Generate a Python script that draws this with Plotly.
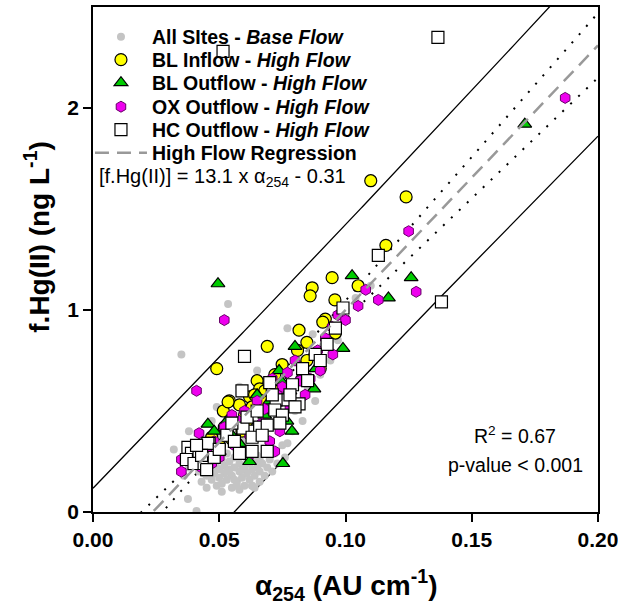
import numpy as np
import plotly.graph_objects as go

# ---------------- data ----------------
base_x = [0.042,0.043,0.044,0.045,0.045,0.046,0.047,0.047,0.048,0.048,0.049,0.049,0.050,0.050,0.051,0.051,
          0.052,0.052,0.053,0.053,0.054,0.054,0.055,0.055,0.056,0.056,0.057,0.057,0.058,0.058,0.059,0.059,
          0.060,0.060,0.061,0.061,0.062,0.062,0.063,0.063,0.064,0.064,0.065,0.065,0.066,0.066,0.067,0.068,
          0.068,0.069,0.070,0.071,0.072,0.073,0.075,0.076,0.046,0.049,0.053,0.056,0.059,0.062,0.066,0.044,
          0.051,0.058,0.064,0.057,
          0.035,0.0535,0.0376,0.041,0.032,0.038,0.049,0.065,0.077,0.063,0.077,0.091,0.094,0.085,0.080,0.072,
          0.068,0.060,0.055,0.050,0.045,0.040,0.038,0.088,0.083,0.079,0.100,0.104,0.096,0.087,0.082,0.074,
          0.070,0.058,0.062,0.036,0.040,0.043,0.047,0.053,0.110,0.097,0.090]
base_y = [0.20,0.15,0.25,0.18,0.12,0.22,0.28,0.16,0.19,0.24,0.13,0.30,0.21,0.17,0.26,0.14,
          0.23,0.19,0.29,0.16,0.21,0.25,0.12,0.18,0.27,0.22,0.15,0.31,0.20,0.24,0.17,0.28,
          0.13,0.22,0.19,0.26,0.16,0.30,0.21,0.13,0.25,0.18,0.22,0.28,0.15,0.20,0.24,0.18,
          0.30,0.22,0.26,0.20,0.29,0.24,0.33,0.27,0.26,0.22,0.20,0.16,0.21,0.24,0.26,0.19,
          0.10,0.11,0.12,0.13,
          0.78,1.03,0.064,0.005,0.31,0.40,0.52,0.70,0.34,0.13,0.91,0.82,0.75,0.62,0.50,0.45,
          0.38,0.35,0.42,0.38,0.33,0.28,0.22,0.55,0.45,0.40,1.00,1.06,0.92,0.88,0.72,0.58,
          0.52,0.62,0.55,0.18,0.33,0.35,0.45,0.50,1.12,0.85,0.68]

bl_in_x = [0.110,0.124,0.116,0.0947,0.0868,0.086,0.0958,0.105,0.092,0.0816,0.069,0.049,0.091,0.096,0.0847,
           0.090,0.0749,0.065,0.066,0.054,0.058,0.0516,0.052,0.062,0.068,0.081,0.0847,0.0535,0.060,0.063,
           0.057,0.055,0.050,0.047,0.061,0.067,0.071,0.072,0.064,0.059]
bl_in_y = [1.64,1.56,1.32,1.16,1.11,1.07,1.05,1.12,0.955,0.90,0.82,0.71,0.94,0.886,0.84,
           0.71,0.73,0.65,0.61,0.55,0.53,0.50,0.42,0.57,0.60,0.80,0.75,0.545,0.48,0.52,
           0.44,0.36,0.33,0.37,0.45,0.55,0.62,0.68,0.58,0.40]

bl_out_x = [0.171,0.0495,0.1026,0.126,0.117,0.099,0.0875,0.0768,0.0788,0.0752,0.0455,0.048,0.080,0.0883,
            0.0737,0.062,0.065,0.070,0.075,0.060,0.055,0.050,0.068,0.072,0.078,0.058,0.045,0.053,0.083,0.066]
bl_out_y = [1.92,1.13,1.17,1.16,1.06,0.81,0.61,0.45,0.40,0.24,0.435,0.40,0.82,0.71,
            0.70,0.25,0.58,0.55,0.64,0.42,0.38,0.30,0.48,0.50,0.60,0.34,0.28,0.45,0.68,0.40]

ox_x = [0.187,0.052,0.041,0.125,0.128,0.108,0.097,0.0947,0.077,0.082,0.086,0.073,0.068,0.055,0.070,0.063,
        0.042,0.035,0.035,0.100,0.092,0.089,0.080,0.075,0.071,0.065,0.060,0.058,0.052,0.048,0.045,0.040,
        0.038,0.050,0.056,0.062,0.067,0.074,0.078,0.084,0.090,0.095,0.105,0.113,0.043,0.047,0.072]
ox_y = [2.05,0.95,0.60,1.39,1.09,1.10,0.975,0.916,0.69,0.65,0.66,0.58,0.51,0.48,0.35,0.29,
        0.39,0.26,0.20,0.95,0.86,0.80,0.75,0.62,0.66,0.55,0.50,0.45,0.42,0.35,0.30,0.25,
        0.30,0.27,0.33,0.38,0.44,0.40,0.52,0.58,0.70,0.78,1.02,1.05,0.22,0.24,0.30]

hc_x = [0.0515,0.1366,0.138,0.113,0.099,0.060,0.059,0.070,0.079,0.0816,0.077,0.0725,0.072,0.0634,0.066,
        0.069,0.0594,0.063,0.067,0.053,0.058,0.069,0.046,0.0927,0.088,0.083,0.096,0.0376,0.039,0.042,
        0.037,0.040,0.044,0.048,0.0455,0.055,0.063,0.075,0.078,0.085,0.090,0.061,0.056,0.050,0.043,
        0.074,0.080,0.065,0.071,0.045,0.041]
hc_y = [2.28,2.35,1.04,1.27,1.01,0.77,0.60,0.64,0.63,0.535,0.555,0.555,0.505,0.40,0.42,
        0.43,0.415,0.37,0.38,0.38,0.29,0.30,0.34,0.83,0.78,0.71,0.91,0.32,0.29,0.30,
        0.26,0.24,0.24,0.27,0.34,0.44,0.30,0.48,0.58,0.65,0.75,0.47,0.35,0.31,0.28,
        0.44,0.52,0.50,0.58,0.21,0.33]

# regression parameters (from the printed equation) and band parameters
reg_slope = 13.1
reg_intercept = -0.31
x_mean = 0.065
conf_min_half = 0.0195   # half-width of confidence band at the mean
conf_growth = 1.176      # growth of confidence half-width with distance from mean
pred_half = 0.42         # residual spread used for the prediction band

x_ticks = [0.00, 0.05, 0.10, 0.15, 0.20]
y_ticks = [0, 1, 2]

series_names = ["<b>All SItes - <i>Base Flow</i></b>",
                "<b>BL Inflow - <i>High Flow</i></b>",
                "<b>BL Outflow - <i>High Flow</i></b>",
                "<b>OX Outflow - <i>High Flow</i></b>",
                "<b>HC Outflow - <i>High Flow</i></b>",
                "<b>High Flow Regression</b>"]

# ---------------- lines computed from the parameters ----------------
xg = np.linspace(0.0, 0.2, 201)
reg = reg_slope * xg + reg_intercept
conf = np.sqrt(conf_min_half**2 + (conf_growth * (xg - x_mean))**2)
pred = np.sqrt(pred_half**2 + conf**2)

FONT = "Arial, Liberation Sans, sans-serif"
fig = go.Figure()

line_common = dict(mode="lines", showlegend=False, hoverinfo="skip")
fig.add_trace(go.Scatter(x=xg, y=reg + pred, line=dict(color="black", width=1.3), **line_common))
fig.add_trace(go.Scatter(x=xg, y=reg - pred, line=dict(color="black", width=1.3), **line_common))
fig.add_trace(go.Scatter(x=xg, y=reg + conf, line=dict(color="black", width=2, dash="2px,9px"), **line_common))
fig.add_trace(go.Scatter(x=xg, y=reg - conf, line=dict(color="black", width=2, dash="2px,9px"), **line_common))

legend_ids = ["legend", "legend2", "legend3", "legend4", "legend5", "legend6"]

fig.add_trace(go.Scatter(x=base_x, y=base_y, mode="markers", name=series_names[0], legend=legend_ids[0],
                         marker=dict(color="#c4c4c4", size=8, line=dict(width=0))))
fig.add_trace(go.Scatter(x=bl_in_x, y=bl_in_y, mode="markers", name=series_names[1], legend=legend_ids[1],
                         marker=dict(color="#ffff00", size=12, line=dict(color="black", width=1.2))))
fig.add_trace(go.Scatter(x=bl_out_x, y=bl_out_y, mode="markers", name=series_names[2], legend=legend_ids[2],
                         marker=dict(color="#00cc00", symbol="triangle-up", size=12, line=dict(color="black", width=1.2))))
fig.add_trace(go.Scatter(x=ox_x, y=ox_y, mode="markers", name=series_names[3], legend=legend_ids[3],
                         marker=dict(color="#ee00ee", symbol="hexagon", size=11, line=dict(color="#660066", width=1))))
fig.add_trace(go.Scatter(x=hc_x, y=hc_y, mode="markers", name=series_names[4], legend=legend_ids[4],
                         marker=dict(color="white", symbol="square", size=12, line=dict(color="black", width=1.2))))
fig.add_trace(go.Scatter(x=xg, y=reg, mode="lines", name=series_names[5], legend=legend_ids[5],
                         line=dict(color="#999999", width=2.5, dash="14px,8px"), hoverinfo="skip"))

axis_common = dict(showgrid=False, zeroline=False, showline=True, linecolor="black", linewidth=1.5,
                   mirror=True, ticks="outside", ticklen=8, tickwidth=1.5, tickcolor="black",
                   ticklabeloverflow="allow", automargin=False,
                   tickfont=dict(family=FONT, size=21, color="black"))
fig.update_xaxes(range=[0, 0.2], tickvals=x_ticks, ticktext=[f"<b>{v:.2f}</b>" for v in x_ticks], **axis_common)
fig.update_yaxes(range=[0, 2.5], tickvals=y_ticks, ticktext=[f"<b>{v}</b>" for v in y_ticks], **axis_common)

# one single-entry legend per row so the rows can sit as close as in the reference
row_px = [37, 60, 83, 107, 130, 153]
legends = {}
for lid, py in zip(legend_ids, row_px):
    legends[lid] = dict(x=-0.006, y=(512 - py) / 505, xanchor="left", yanchor="middle",
                        bgcolor="rgba(0,0,0,0)", font=dict(family=FONT, size=19.5, color="black"),
                        itemwidth=52)

fig.update_layout(
    width=618, height=611,
    margin=dict(l=93, r=20, t=7, b=99, autoexpand=False),
    plot_bgcolor="white", paper_bgcolor="white",
    font=dict(family=FONT, color="black"),
    annotations=[
        dict(text="[f.Hg(II)] = 13.1 x α<sub>254</sub> - 0.31", x=0.008, y=(512 - 178) / 505,
             xref="paper", yref="paper", xanchor="left", yanchor="middle", showarrow=False,
             font=dict(family=FONT, size=20)),
        dict(text="R<sup>2</sup> = 0.67", x=0.836, y=0.1525, xref="paper", yref="paper",
             xanchor="center", yanchor="middle", showarrow=False, font=dict(family=FONT, size=19.5)),
        dict(text="p-value < 0.001", x=0.836, y=0.093, xref="paper", yref="paper",
             xanchor="center", yanchor="middle", showarrow=False, font=dict(family=FONT, size=19.5)),
        dict(text="<b>f.Hg(II) (ng L<sup>-1</sup>)</b>", x=-0.111, y=0.545, xref="paper", yref="paper",
             xanchor="center", yanchor="middle", textangle=-90, showarrow=False, font=dict(family=FONT, size=28)),
        dict(text="<b>α<sub>254</sub> (AU cm<sup>-1</sup>)</b>", x=0.5, y=-0.145, xref="paper", yref="paper",
             xanchor="center", yanchor="middle", showarrow=False, font=dict(family=FONT, size=28)),
    ],
    **legends,
)

fig.write_html("out.html")
